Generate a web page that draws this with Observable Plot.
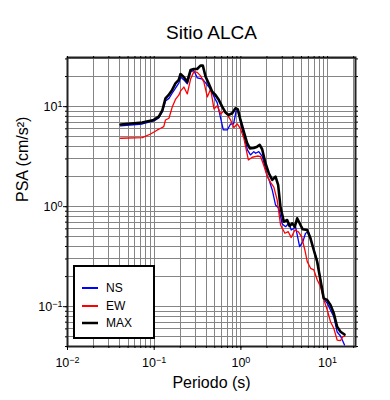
<!DOCTYPE html>
<html><head><meta charset="utf-8">
<script src="https://cdn.jsdelivr.net/npm/d3@7"></script>
<script src="https://cdn.jsdelivr.net/npm/@observablehq/plot@0.6"></script>
<style>
body{margin:0;background:#fff;font-family:"Liberation Sans",Arial,Helvetica,sans-serif;}
#wrap{position:relative;width:390px;height:400px;}
#legend{position:absolute;left:73px;top:265px;width:78px;height:70px;border:2px solid #000;background:#fff;}
</style></head><body><div id="wrap"></div>
<script>
const chartTitle = "Sitio ALCA";
const xLabel = "Periodo (s)";
const yLabel = "PSA (cm/s²)";
const seriesNames = ["NS", "EW", "MAX"];
const seriesColors = ["#0000ff", "#ff0000", "#000000"];

const nsPeriod = [0.0409,0.0729,0.0993,0.113,0.124,0.135,0.148,0.162,0.177,0.193,0.202,0.220,0.241,0.263,0.287,0.314,0.359,0.392,0.428,0.468,0.501,0.534,0.583,0.627,0.697,0.760,0.824,0.881,0.940,1.02,1.10,1.19,1.29,1.41,1.48,1.61,1.77,2.02,2.10,2.30,2.51,2.74,3.00,3.28,3.58,3.81,4.09,4.27,4.76,5.19,5.57,5.99,6.36,6.95,7.61,8.30,9.07,9.93,10.8,11.8,12.9,14.1,15.7];
const nsPSA = [6.41,6.71,7.19,7.71,8.85,11.4,12.1,13.7,15.4,17.3,19.8,18.5,16.9,22.2,23.0,19.4,18.9,17.3,15.7,13.7,12.1,10.9,7.71,5.85,5.85,6.71,6.71,9.06,8.85,6.27,4.86,3.69,3.29,3.55,3.42,3.55,3.16,2.0,1.89,1.47,1.04,0.964,0.671,0.631,0.682,0.585,0.608,0.631,0.398,0.447,0.542,0.562,0.483,0.369,0.282,0.185,0.119,0.108,0.0927,0.0794,0.0558,0.0509,0.0414];

const ewPeriod = [0.0409,0.0729,0.0909,0.109,0.119,0.129,0.135,0.148,0.162,0.177,0.193,0.202,0.220,0.241,0.263,0.287,0.314,0.343,0.374,0.410,0.448,0.489,0.534,0.583,0.637,0.697,0.760,0.830,0.908,0.992,1.08,1.22,1.35,1.55,1.69,1.83,2.02,2.20,2.40,2.62,2.87,3.22,3.52,3.80,4.20,4.59,5.01,5.47,5.83,6.37,6.95,7.61,8.30,9.07,9.93,10.8,11.8,12.9,14.1,15.0,15.8];
const ewPSA = [4.83,4.90,5.33,5.85,6.08,6.31,7.36,7.66,10.0,11.9,13.1,14.4,15.7,13.4,18.9,22.4,22.0,20.3,17.7,12.5,15.0,9.48,10.2,8.45,9.06,8.26,7.36,6.19,6.71,5.98,4.86,2.93,3.12,3.21,3.16,2.61,2.0,1.75,1.57,1.17,0.656,0.542,0.562,0.492,0.585,0.562,0.501,0.369,0.282,0.242,0.233,0.185,0.158,0.117,0.0927,0.0708,0.0608,0.0464,0.0459,0.0501,0.0509];

const maxPeriod = [0.041,0.0728,0.0988,0.113,0.124,0.135,0.147,0.161,0.176,0.192,0.201,0.219,0.240,0.263,0.286,0.313,0.342,0.364,0.391,0.427,0.467,0.509,0.556,0.608,0.664,0.724,0.794,0.867,0.921,0.989,1.08,1.18,1.27,1.41,1.54,1.65,1.76,1.92,2.10,2.30,2.51,2.69,2.86,3.13,3.42,3.64,3.91,4.19,4.46,4.87,5.17,5.82,6.35,6.93,7.59,8.28,9.04,9.88,10.8,11.8,12.9,14.1,15.7];
const maxPSA = [6.64,6.95,7.36,7.94,9.16,12.1,13.1,14.7,17.1,18.5,21.2,19.8,17.7,23.3,23.8,23.8,25.7,25.7,20.0,16.9,14.1,13.1,11.7,10.0,8.75,8.26,8.59,9.64,9.38,7.36,5.62,4.31,3.82,3.86,3.98,4.14,3.75,2.72,2.16,1.85,2.0,1.65,1.0,0.708,0.736,0.641,0.682,0.631,0.766,0.656,0.594,0.585,0.483,0.369,0.282,0.185,0.121,0.117,0.104,0.0859,0.063,0.0562,0.0527];

const xDomain = [0.01, 21];
const yDomain = [0.04, 31];
const xMajorTicks = [0.01, 0.1, 1, 10];
const yMajorTicks = [0.1, 1, 10];
const xMinorTicks = [0.01,0.02,0.03,0.04,0.05,0.06,0.07,0.08,0.09,0.1,0.2,0.3,0.4,0.5,0.6,0.7,0.8,0.9,1,2,3,4,5,6,7,8,9,10,20];
const yMinorTicks = [0.04,0.05,0.06,0.07,0.08,0.09,0.1,0.2,0.3,0.4,0.5,0.6,0.7,0.8,0.9,1,2,3,4,5,6,7,8,9,10,20,30];

const zip = (p, v) => p.map((d, i) => ({period: d, psa: v[i]}));
const ns = zip(nsPeriod, nsPSA), ew = zip(ewPeriod, ewPSA), mx = zip(maxPeriod, maxPSA);

const fmt = d => { const e = Math.round(Math.log10(d)); return "10^" + (e < 0 ? "\u2212" + (-e) : e); };
const font = '"Liberation Sans", Arial, Helvetica, sans-serif';
const grid = "#858585";

const svg = Plot.plot({
  width: 390, height: 400,
  marginLeft: 67, marginRight: 35, marginTop: 57, marginBottom: 54,
  style: {fontFamily: font, fontSize: "12px", background: "white", color: "black"},
  x: {type: "log", domain: xDomain},
  y: {type: "log", domain: yDomain},
  marks: [
    Plot.ruleX(xMinorTicks, {stroke: grid, strokeWidth: 1, shapeRendering: "crispEdges"}),
    Plot.ruleY(yMinorTicks, {stroke: grid, strokeWidth: 1, shapeRendering: "crispEdges"}),
    Plot.line(ns, {x: "period", y: "psa", stroke: seriesColors[0], strokeWidth: 1.3}),
    Plot.line(ew, {x: "period", y: "psa", stroke: seriesColors[1], strokeWidth: 1.3}),
    Plot.line(mx, {x: "period", y: "psa", stroke: seriesColors[2], strokeWidth: 2.6}),
    Plot.frame({stroke: "#222", strokeWidth: 2}),
    Plot.axisX(xMinorTicks, {anchor: "bottom", tickSize: 2, tickFormat: () => "", label: null}),
    Plot.axisX(xMinorTicks, {anchor: "top", tickSize: 2, tickFormat: () => "", label: null}),
    Plot.axisY(yMinorTicks, {anchor: "left", tickSize: 2, tickFormat: () => "", label: null}),
    Plot.axisY(yMinorTicks, {anchor: "right", tickSize: 2, tickFormat: () => "", label: null}),
    Plot.axisX(xMajorTicks, {anchor: "bottom", tickSize: 4, tickPadding: 8, tickFormat: fmt, label: null, fontSize: 12.5}),
    Plot.axisY(yMajorTicks, {anchor: "left", tickSize: 4, tickPadding: 1, tickFormat: fmt, label: null, fontSize: 12.5}),
    Plot.text([chartTitle], {text: d => d, frameAnchor: "top", lineAnchor: "middle", dy: -25, fontSize: 19}),
    Plot.text([xLabel], {text: d => d, frameAnchor: "bottom", lineAnchor: "middle", dy: 36, fontSize: 16}),
    Plot.text([yLabel], {text: d => d, frameAnchor: "left", lineAnchor: "middle", rotate: -90, dx: -45, fontSize: 16})
  ]
});

d3.select(svg).selectAll("text").each(function() {
  const t = this.textContent;
  if (t.includes("^")) {
    const [base, exp] = t.split("^");
    const sel = d3.select(this);
    sel.text(null);
    sel.append("tspan").text(base);
    sel.append("tspan").attr("dy", "-0.45em").attr("font-size", "0.72em").text(exp);
  }
});

const wrap = document.getElementById("wrap");
wrap.appendChild(svg);

const legend = d3.select(wrap).append("div").attr("id", "legend");
const ls = legend.append("svg").attr("width", 78).attr("height", 70);
const rows = ls.selectAll("g").data(seriesNames).join("g")
  .attr("transform", (d, i) => `translate(0,${[21, 39, 56][i]})`);
rows.append("line").attr("x1", 7).attr("x2", 23).attr("y1", 0).attr("y2", 0)
  .attr("stroke", (d, i) => seriesColors[i]).attr("stroke-width", (d, i) => i === 2 ? 2.5 : 2);
rows.append("text").attr("x", 31).attr("y", 0).attr("dy", "0.35em")
  .attr("font-family", font).attr("font-size", 12).text(d => d);
</script>
</body></html>
